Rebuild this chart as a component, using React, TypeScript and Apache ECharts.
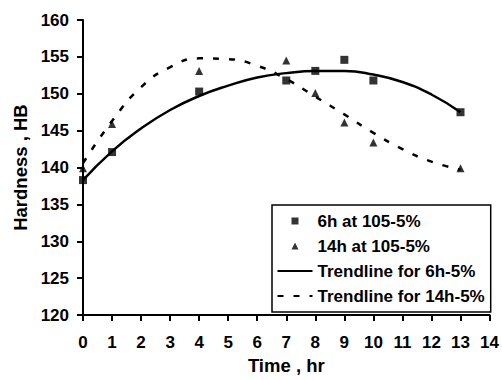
import React, { useEffect, useRef } from "react";
import * as echarts from "echarts";

const hours6h = [0, 1, 4, 7, 8, 9, 10, 13];
const hardness6h = [138.3, 142.1, 150.3, 151.8, 153.1, 154.6, 151.8, 147.5];
const hours14h = [0, 1, 4, 7, 8, 9, 10, 13];
const hardness14h = [139.9, 145.9, 153.1, 154.5, 150.1, 146.1, 143.4, 139.9];
const trendHours = [0, 1, 2, 3, 4, 5, 6, 7, 8, 9, 10, 11, 12, 13];
const trend6h = [138.3, 142.2, 145.3, 147.8, 149.7, 151.1, 152.2, 152.8, 153.1, 153.1, 152.6, 151.6, 149.9, 147.5];
const trend14h = [140.6, 146.3, 150.9, 153.6, 154.8, 154.7, 153.8, 152.0, 149.6, 147.2, 144.7, 142.5, 140.8, 139.7];
const seriesNames = ["6h at 105-5%", "14h at 105-5%", "Trendline for 6h-5%", "Trendline for 14h-5%"];
const xTitle = "Time , hr";
const yTitle = "Hardness , HB";

const FONT = "'Liberation Sans', Arial, sans-serif";

export default function App() {
  const ref = useRef<HTMLDivElement>(null);
  useEffect(() => {
    document.body.style.margin = "0";
    const chart = echarts.init(ref.current!, null, { renderer: "svg" });
    const zip = (xs: number[], ys: number[]) => xs.map((x, i) => [x, ys[i]]);
    const axisCommon = {
      axisLine: { show: true, lineStyle: { color: "#000", width: 2 } },
      axisTick: { show: true, inside: false, length: 6, lineStyle: { color: "#000", width: 2 } },
      splitLine: { show: false },
      nameLocation: "middle" as const,
      nameTextStyle: { fontFamily: FONT, fontWeight: "bold" as const, fontSize: 18.5, color: "#000" },
    };
    chart.setOption({
      animation: false,
      backgroundColor: "#fff",
      grid: { left: 83, right: 3, top: 20, bottom: 56, containLabel: false },
      xAxis: {
        type: "value",
        min: 0,
        max: 14,
        interval: 1,
        name: xTitle,
        nameGap: 38.5,
        ...axisCommon,
        axisLabel: { margin: 19, fontFamily: FONT, fontWeight: "bold", fontSize: 17, color: "#000", showMaxLabel: true },
      },
      yAxis: {
        type: "value",
        min: 120,
        max: 160,
        interval: 5,
        name: yTitle,
        nameGap: 53,
        ...axisCommon,
        axisLabel: { margin: 14, fontFamily: FONT, fontWeight: "bold", fontSize: 17, color: "#000" },
      },
      legend: {
        orient: "vertical",
        left: 272,
        top: 205,
        padding: [3.5, 6, 3.5, 4.5],
        itemGap: 0,
        itemWidth: 35,
        itemHeight: 7,
        symbolKeepAspect: true,
        selectedMode: false,
        borderColor: "#000",
        borderWidth: 1.5,
        backgroundColor: "#fff",
        textStyle: { fontFamily: FONT, fontWeight: "bold", fontSize: 17, color: "#000", lineHeight: 25 },
        data: [
          { name: seriesNames[0], icon: "path://M0,0L10,0L10,10L0,10Z" },
          { name: seriesNames[1], icon: "path://M5,0L10,10L0,10Z" },
          { name: seriesNames[2], itemStyle: { opacity: 0 } },
          { name: seriesNames[3], itemStyle: { opacity: 0 } },
        ],
      },
      series: [
        {
          name: seriesNames[2],
          type: "line",
          data: zip(trendHours, trend6h),
          smooth: true,
          symbol: "none",
          lineStyle: { color: "#000", width: 2.5, type: "solid" },
          itemStyle: { color: "#000" },
          z: 1,
        },
        {
          name: seriesNames[3],
          type: "line",
          data: zip(trendHours, trend14h),
          smooth: true,
          symbol: "none",
          lineStyle: { color: "#000", width: 2.5, type: [6, 10] },
          itemStyle: { color: "#000" },
          z: 1,
        },
        {
          name: seriesNames[0],
          type: "scatter",
          data: zip(hours6h, hardness6h),
          symbol: "rect",
          symbolSize: 8,
          itemStyle: { color: "#000" },
          z: 3,
        },
        {
          name: seriesNames[1],
          type: "scatter",
          data: zip(hours14h, hardness14h),
          symbol: "triangle",
          symbolSize: 8,
          itemStyle: { color: "#000" },
          z: 3,
        },
      ],
    });
    return () => chart.dispose();
  }, []);
  return <div ref={ref} style={{ width: 502, height: 380 }} />;
}
